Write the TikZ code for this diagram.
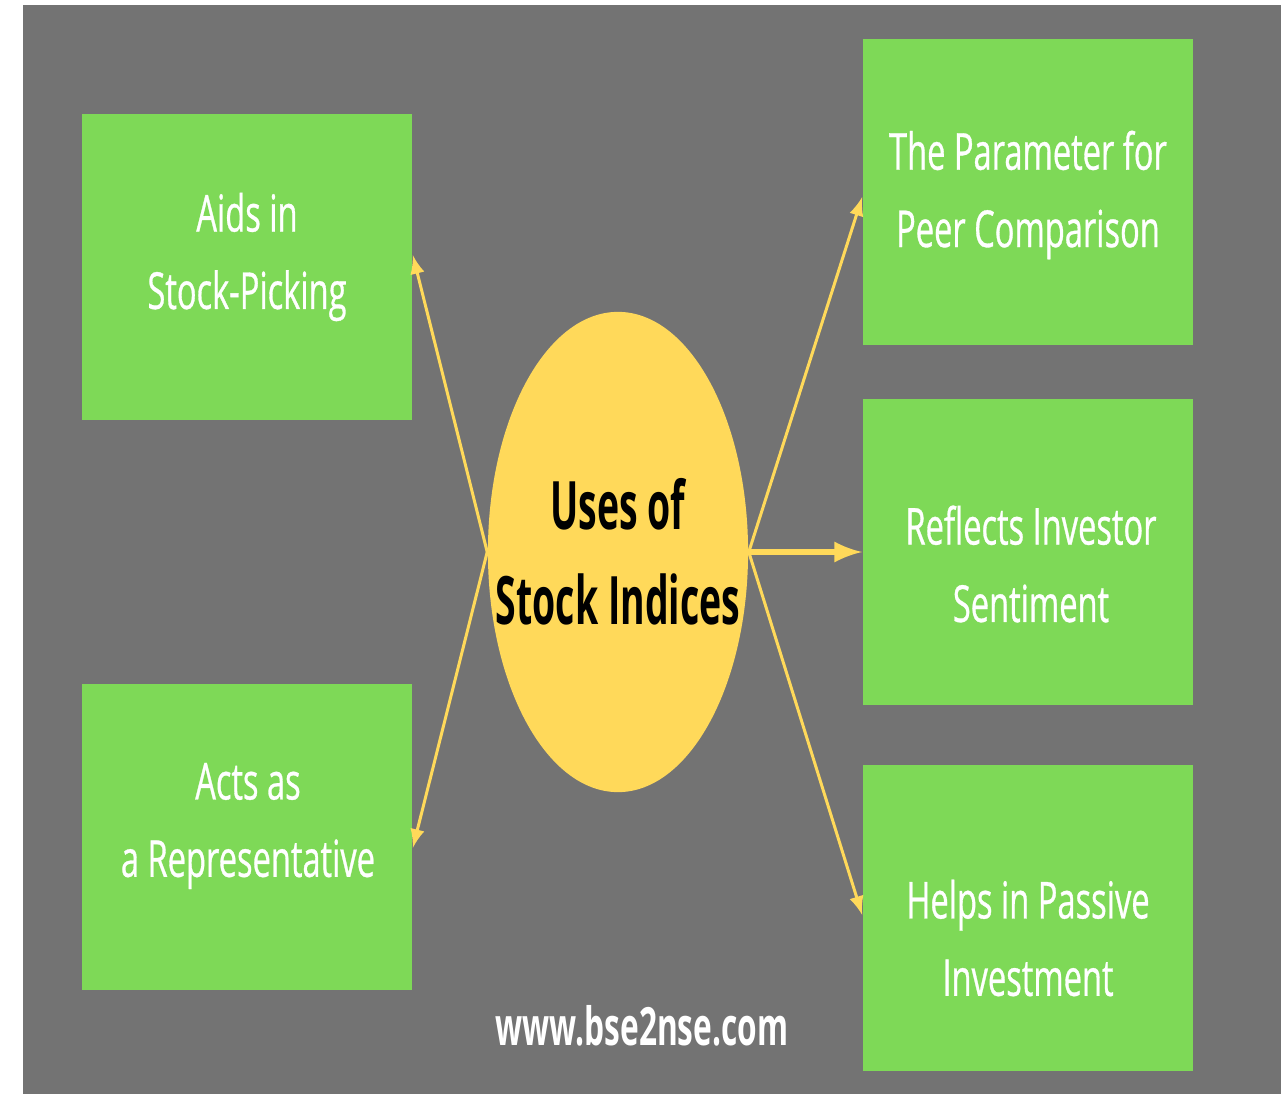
\documentclass[tikz,border=0pt]{standalone}
\usepackage{xcolor}
\usepackage{fontspec}
\setmainfont{Open Sans}[FakeStretch=0.64, FakeBold=0.6]
\newfontfamily\hubfont{Open Sans}[FakeStretch=0.56]
\newfontfamily\sitefont{Open Sans}[FakeStretch=0.6]
\usepackage{tikz}
\usetikzlibrary{shapes.geometric, arrows, positioning}
\definecolor{bggray}{RGB}{115, 115, 115}
\definecolor{boxgreen}{RGB}{126, 217, 87}
\definecolor{hubyellow}{RGB}{255, 217, 90}

\begin{document}
\begin{tikzpicture}[
    x=0.01cm, y=-0.01cm,
    usebox/.style={rectangle, fill=boxgreen, inner sep=0pt,
                   minimum width=3.3cm, minimum height=3.05cm},
    boxtext/.style={align=center, text=white, font=\fontsize{14.5}{22}\selectfont},
    hub/.style={ellipse, fill=hubyellow, inner sep=0pt,
                minimum width=2.6cm, minimum height=4.8cm},
    link/.style={draw=hubyellow, line width=0.85pt, -latex}
]
    \useasboundingbox (0,0) rectangle (1281,1094);
    \fill[bggray] (23,5) rectangle (1281,1094);

    % centre
    \node[hub] (uses) at (618,552) {};
    \node[align=center, font=\fontsize{19}{27}\hubfont\bfseries] (usestext) at (uses.center) {Uses of\\Stock Indices};

    % left column
    \node[usebox] (aids) at (247,267) {};
    \node[usebox] (acts) at (247,837) {};
    \node[boxtext] (aidstext) at (247,257) {Aids in\\Stock-Picking};
    \node[boxtext] (actstext) at (248,826) {Acts as\\a Representative};

    % right column
    \node[usebox] (param) at (1028,192) {};
    \node[usebox] (reflect) at (1028,552) {};
    \node[usebox] (passive) at (1028,918) {};
    \node[boxtext] (paramtext) at (1028,195) {The Parameter for\\Peer Comparison};
    \node[boxtext] (reflecttext) at (1031,564) {Reflects Investor\\Sentiment};
    \node[boxtext] (passivetext) at (1028,938) {Helps in Passive\\Investment};

    \node[text=white, font=\fontsize{15}{18}\sitefont\bfseries] (site) at (642,1026) {www.bse2nse.com};

    % connectors
    \draw[link] (uses.west) -- ([yshift=0.12cm]aids.east);
    \draw[link] (uses.west) -- ([yshift=-0.11cm]acts.east);
    \draw[link] (uses.east) -- ([yshift=-0.05cm]param.west);
    \draw[link, line width=1.7pt] (uses.east) -- (reflect.west);
    \draw[link] (uses.east) -- ([yshift=0.03cm]passive.west);
\end{tikzpicture}
\end{document}
